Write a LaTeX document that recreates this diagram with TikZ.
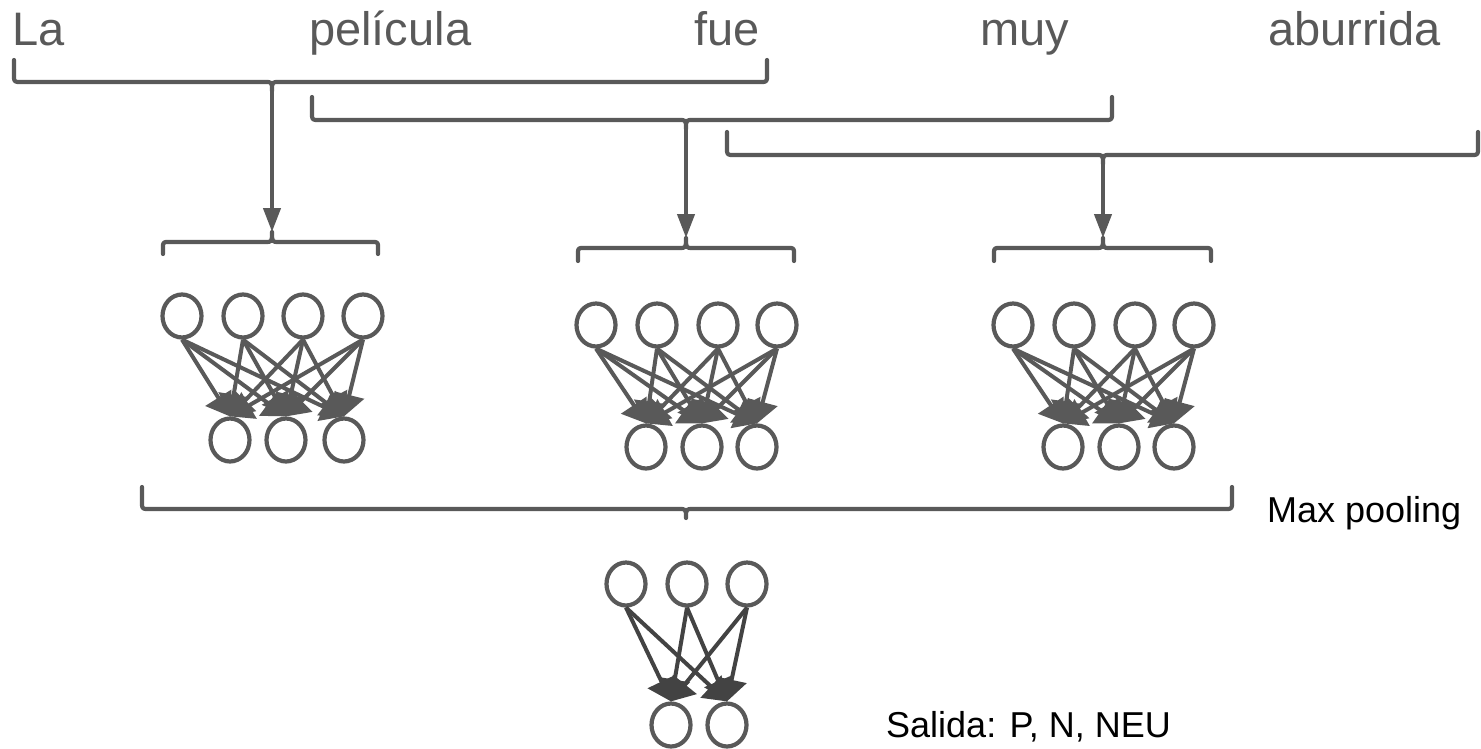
\documentclass[tikz,border=0pt]{standalone}
\usepackage{fontspec}
\setmainfont{Liberation Sans}
\usetikzlibrary{arrows.meta,shapes.geometric}

\definecolor{ink}{HTML}{595959}
\definecolor{darkink}{HTML}{434343}

% Brace whose two ends point up and whose tip points down.
% #1 left x, #2 right x, #3 tip x, #4 end y, #5 line y, #6 tip name
\newcommand\BraceDown[6]{%
  \draw[bracestyle] (#1,#4) -- (#1,#5-7) .. controls (#1,#5) .. (#1+7,#5)
    -- (#3-7,#5) .. controls (#3,#5) .. (#3,#5+9)
    .. controls (#3,#5) .. (#3+7,#5)
    -- (#2-7,#5) .. controls (#2,#5) .. (#2,#5-7) -- (#2,#4);
  \coordinate (#6) at (#3,#5+9);}

% Brace whose two ends point down and whose tip points up.
\newcommand\BraceUp[6]{%
  \draw[bracestyle] (#1,#4) -- (#1,#5+6) .. controls (#1,#5) .. (#1+6,#5)
    -- (#3-7,#5) .. controls (#3,#5) .. (#3,#5-10)
    .. controls (#3,#5) .. (#3+7,#5)
    -- (#2-6,#5) .. controls (#2,#5) .. (#2,#5+6) -- (#2,#4);
  \coordinate (#6) at (#3,#5-10);}

\tikzset{
  bracestyle/.style={draw=ink, line width=4.2pt, line cap=round, line join=round},
  feed/.style={draw=ink, line width=4.2pt,
    -{Triangle[length=24pt,width=17pt]}},
  neuron/.style={ellipse, draw=ink, line width=4.2pt, fill=white,
    minimum width=39pt, minimum height=43pt, inner sep=0pt},
  link/.style={draw=ink, line width=4pt,
    -{Triangle[length=22pt,width=30pt]}},
  outlink/.style={draw=darkink, line width=4pt,
    -{Triangle[length=22pt,width=30pt]}},
  word/.style={anchor=base west, inner sep=0pt, text=ink,
    font=\fontsize{47}{50}\selectfont},
  note/.style={anchor=base west, inner sep=0pt, text=black,
    font=\fontsize{36}{40}\selectfont},
}

\begin{document}
\begin{tikzpicture}[x=1pt,y=-1pt]
\useasboundingbox (0,0) rectangle (1481,749);

% sentence
\node[word] (w1) at (12,46) {La};
\node[word] (w2) at (309,46) {película};
\node[word] (w3) at (694,46) {fue};
\node[word] (w4) at (980,46) {muy};
\node[word] (w5) at (1268,46) {aburrida};

% windows of three words
\BraceDown{14}{767}{272}{60}{82}{win1}
\BraceDown{312}{1112}{686}{97}{120}{win2}
\BraceDown{727}{1478}{1103}{132}{155}{win3}

% filter inputs
\BraceUp{163}{378}{272}{254}{242}{in1}
\BraceUp{578}{794}{686}{261}{248}{in2}
\BraceUp{994}{1211}{1103}{261}{248}{in3}

\draw[feed] (win1) -- (in1);
\draw[feed] (win2) -- (in2);
\draw[feed] (win3) -- (in3);

% first filter
\foreach \i/\x in {1/182,2/243,3/303,4/363} \node[neuron] (a\i) at (\x,316) {};
\foreach \j/\x in {1/230,2/286,3/344} \node[neuron] (ao\j) at (\x,440) {};
% second filter
\foreach \i/\x in {1/596,2/657,3/718,4/777} \node[neuron] (b\i) at (\x,325) {};
\foreach \j/\x in {1/646,2/702,3/757} \node[neuron] (bo\j) at (\x,447) {};
% third filter
\foreach \i/\x in {1/1013,2/1074,3/1135,4/1194} \node[neuron] (c\i) at (\x,325) {};
\foreach \j/\x in {1/1063,2/1119,3/1174} \node[neuron] (co\j) at (\x,447) {};

\foreach \g in {a,b,c}
  \foreach \i in {1,...,4}
    \foreach \j in {1,2,3}
      \draw[link] (\g\i.south) -- (\g o\j.north);

% pooling
\BraceDown{142}{1232}{686}{487}{509}{pool}
\node[note] (mp) at (1267,522) {Max pooling};

% output layer
\foreach \i/\x in {1/626,2/687,3/747} \node[neuron] (p\i) at (\x,584) {};
\foreach \j/\x in {1/671,2/727} \node[neuron] (q\j) at (\x,725) {};
\foreach \i in {1,2,3}
  \foreach \j in {1,2}
    \draw[outlink] (p\i.south) -- (q\j.north);

\node[note] (out) at (886,737) {Salida: P, N, NEU};
\end{tikzpicture}
\end{document}
